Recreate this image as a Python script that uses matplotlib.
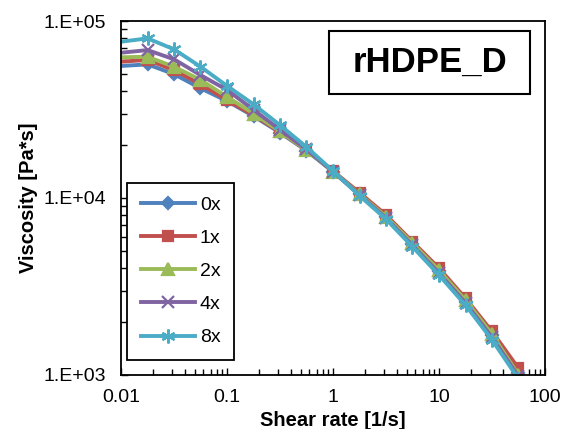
import matplotlib.pyplot as plt
from matplotlib.patches import Rectangle
from matplotlib.ticker import FixedLocator, LogLocator, NullFormatter

plt.rcParams['font.family'] = ['Liberation Sans', 'DejaVu Sans']

# shear rate [1/s]
shear_rate = [0.01, 0.0178, 0.0316, 0.0562, 0.1, 0.178, 0.316, 0.562,
              1.0, 1.78, 3.16, 5.62, 10.0, 17.8, 31.6, 56.2]

# viscosity [Pa*s] per sample
visc_0x = [55700, 56900, 50100, 41700, 35300, 29000, 23400, 18500,
           14100, 10500, 7800, 5500, 3850, 2600, 1680, 1020]
visc_1x = [58900, 60300, 52800, 43900, 35800, 29300, 23600, 18600,
           14200, 10700, 8020, 5660, 4010, 2710, 1760, 1090]
visc_2x = [62400, 62800, 55200, 46500, 37300, 30000, 23800, 18600,
           14100, 10500, 7850, 5550, 3900, 2640, 1700, 1000]
visc_4x = [66200, 68500, 60800, 49500, 40800, 31500, 24300, 18800,
           14100, 10400, 7700, 5400, 3760, 2550, 1630, 980]
visc_8x = [76400, 79800, 69200, 55200, 43000, 33800, 25800, 19400,
           14200, 10300, 7600, 5300, 3670, 2480, 1580, 950]

labels = ['0x', '1x', '2x', '4x', '8x']
series = [visc_0x, visc_1x, visc_2x, visc_4x, visc_8x]
colors = ['#4F81BD', '#C0504D', '#9BBB59', '#8064A2', '#4BACC6']
markers = ['D', 's', '^', 'x', (6, 2, 0)]
msizes = [6.5, 7.5, 8.5, 8, 10]

fig = plt.figure(figsize=(5.61, 4.29), dpi=100)
ax = fig.add_axes([0.2157, 0.126, 0.7558, 0.825])

for lab, y, c, m, ms in zip(labels, series, colors, markers, msizes):
    ax.plot(shear_rate, y, color=c, marker=m, markersize=ms, lw=2.8,
            markeredgewidth=1.6, label=lab, markevery=range(1, len(y)))

ax.set_xscale('log')
ax.set_yscale('log')
ax.set_xlim(0.01, 100)
ax.set_ylim(1000, 100000)

ax.xaxis.set_major_locator(FixedLocator([0.01, 0.1, 1, 10, 100]))
ax.set_xticklabels(['0.01', '0.1', '1', '10', '100'])
ax.xaxis.set_minor_locator(LogLocator(base=10, subs=range(2, 10)))
ax.xaxis.set_minor_formatter(NullFormatter())
ax.yaxis.set_major_locator(FixedLocator([1000, 10000, 100000]))
ax.set_yticklabels(['1.E+03', '1.E+04', '1.E+05'])
ax.yaxis.set_minor_locator(LogLocator(base=10, subs=range(2, 10)))
ax.yaxis.set_minor_formatter(NullFormatter())

ax.tick_params(which='both', direction='in', labelsize=14, colors='black')
ax.tick_params(which='major', length=5, width=1)
ax.tick_params(which='minor', length=4, width=1)
ax.tick_params(axis='x', which='major', pad=10)
ax.tick_params(axis='y', which='major', pad=11)
for s in ax.spines.values():
    s.set_linewidth(1.3)

ax.set_xlabel('Shear rate [1/s]', fontsize=14.5, fontweight='bold', labelpad=4)
ax.set_ylabel('Viscosity [Pa*s]', fontsize=14.5, fontweight='bold', labelpad=4)

# title box
ax.add_patch(Rectangle((0.4906, 0.7938), 0.474, 0.178, transform=ax.transAxes,
                       fc='white', ec='black', lw=1.5, zorder=5))
ax.text(0.7276, 0.8828, 'rHDPE_D', transform=ax.transAxes, fontsize=25,
        fontweight='bold', ha='center', va='center', zorder=6)

leg = ax.legend(loc='lower left', bbox_to_anchor=(0.014, 0.042),
                borderaxespad=0, fontsize=14, handlelength=2.8,
                labelspacing=0.8, borderpad=0.7, handletextpad=0.25,
                fancybox=False, framealpha=1, edgecolor='black')
leg.get_frame().set_linewidth(1.3)

fig.savefig('out.png', dpi=100)
